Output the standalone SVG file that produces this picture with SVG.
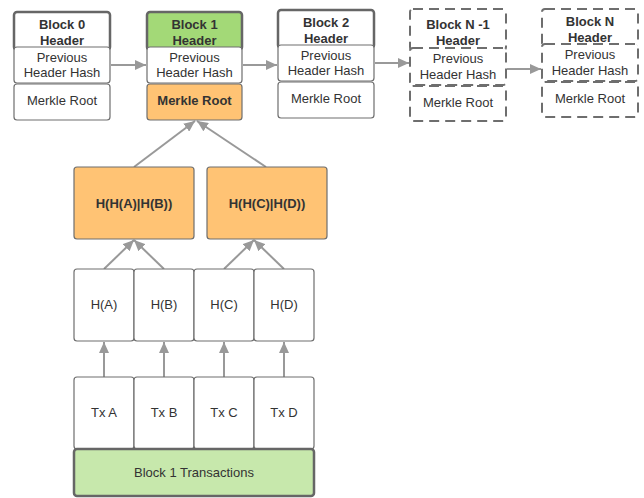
<svg xmlns="http://www.w3.org/2000/svg" width="644" height="498" viewBox="0 0 644 498">
<style>
  text { font-family: "Liberation Sans", Arial, sans-serif; font-size: 13px; fill: #333; text-anchor: middle; dominant-baseline: central; }
  .b { font-weight: bold; }
  .hdr { stroke: #666; stroke-width: 2.5; }
  .box { stroke: #6e6e6e; stroke-width: 1.2; fill: #fff; }
  .dash { stroke-dasharray: 10 6; stroke: #6e6e6e; stroke-width: 2; }
  .white { fill: #fff; }
  .green { fill: #a3d977; }
  .orange { fill: #ffc374; stroke: #6e6e6e; stroke-width: 1.2; }
  .lgreen { fill: #c7e8ac; }
  .conn line { stroke: #999; stroke-width: 2; marker-end: url(#ah); }
</style>
<defs>
  <marker id="ah" markerUnits="userSpaceOnUse" markerWidth="12" markerHeight="10" refX="11" refY="5" orient="auto">
    <path d="M0,0 L11,5 L0,10 Z" fill="#999"/>
  </marker>
</defs>
<rect width="644" height="498" fill="#fff"/>

<g id="connectors" class="conn">
  <line x1="111" y1="65" x2="146" y2="65"/>
  <line x1="243" y1="65" x2="277" y2="65"/>
  <line x1="375" y1="63" x2="409" y2="63"/>
  <line x1="507" y1="69" x2="541" y2="69"/>
  <line x1="134" y1="167" x2="195" y2="121"/>
  <line x1="266" y1="167" x2="197" y2="121"/>
  <line x1="104" y1="269" x2="134" y2="240"/>
  <line x1="164" y1="269" x2="134" y2="240"/>
  <line x1="224" y1="269" x2="254" y2="240"/>
  <line x1="284" y1="269" x2="254" y2="240"/>
  <line x1="104" y1="377" x2="104" y2="342"/>
  <line x1="164" y1="377" x2="164" y2="342"/>
  <line x1="224" y1="377" x2="224" y2="342"/>
  <line x1="284" y1="377" x2="284" y2="342"/>
</g>

<g id="block0">
  <rect class="hdr white" x="14" y="12" width="96" height="38" rx="3"/>
  <rect class="box" x="14" y="47" width="96" height="36" rx="3"/>
  <rect class="box" x="14" y="84" width="96" height="36" rx="3"/>
  <text class="b" x="62" y="24">Block 0</text>
  <text class="b" x="62" y="40">Header</text>
  <text x="62" y="57">Previous</text>
  <text x="62" y="72">Header Hash</text>
  <text x="62" y="100">Merkle Root</text>
</g>

<g id="block1">
  <rect class="hdr green" x="147" y="12" width="95" height="38" rx="3"/>
  <rect class="box" x="147" y="47" width="95" height="36" rx="3"/>
  <rect class="orange" x="147" y="84" width="95" height="36" rx="3"/>
  <text class="b" x="194.5" y="24">Block 1</text>
  <text class="b" x="194.5" y="40">Header</text>
  <text x="194.5" y="57">Previous</text>
  <text x="194.5" y="72">Header Hash</text>
  <text class="b" x="194.5" y="100">Merkle Root</text>
</g>

<g id="block2">
  <rect class="hdr white" x="278" y="10" width="96" height="38" rx="3"/>
  <rect class="box" x="278" y="45" width="96" height="36" rx="3"/>
  <rect class="box" x="278" y="82" width="96" height="36" rx="3"/>
  <text class="b" x="326" y="22">Block 2</text>
  <text class="b" x="326" y="38">Header</text>
  <text x="326" y="55">Previous</text>
  <text x="326" y="70">Header Hash</text>
  <text x="326" y="98">Merkle Root</text>
</g>

<g id="blockN1">
  <rect class="white dash" x="410" y="9" width="96" height="41" rx="3"/>
  <rect class="box dash" x="410" y="48" width="96" height="37" rx="3"/>
  <rect class="box dash" x="410" y="86" width="96" height="35" rx="3"/>
  <text class="b" x="458" y="24">Block N -1</text>
  <text class="b" x="458" y="40">Header</text>
  <text x="458" y="58">Previous</text>
  <text x="458" y="74">Header Hash</text>
  <text x="458" y="102">Merkle Root</text>
</g>

<g id="blockN">
  <rect class="white dash" x="542" y="9" width="96" height="37" rx="3"/>
  <rect class="box dash" x="542" y="44" width="96" height="37" rx="3"/>
  <rect class="box dash" x="542" y="82" width="96" height="35" rx="3"/>
  <text class="b" x="590" y="21">Block N</text>
  <text class="b" x="590" y="37">Header</text>
  <text x="590" y="54">Previous</text>
  <text x="590" y="70">Header Hash</text>
  <text x="590" y="98">Merkle Root</text>
</g>

<g id="hab">
  <rect class="orange" x="74" y="167" width="120" height="72" rx="3"/>
  <text class="b" x="134" y="203">H(H(A)|H(B))</text>
</g>
<g id="hcd">
  <rect class="orange" x="207" y="167" width="120" height="72" rx="3"/>
  <text class="b" x="267" y="203">H(H(C)|H(D))</text>
</g>

<g id="ha"><rect class="box" x="74" y="269" width="60" height="72" rx="3"/><text x="104" y="304">H(A)</text></g>
<g id="hb"><rect class="box" x="134" y="269" width="60" height="72" rx="3"/><text x="164" y="304">H(B)</text></g>
<g id="hc"><rect class="box" x="194" y="269" width="60" height="72" rx="3"/><text x="224" y="304">H(C)</text></g>
<g id="hd"><rect class="box" x="254" y="269" width="60" height="72" rx="3"/><text x="284" y="304">H(D)</text></g>

<g id="txa"><rect class="box" x="74" y="377" width="60" height="72" rx="3"/><text x="104" y="412">Tx A</text></g>
<g id="txb"><rect class="box" x="134" y="377" width="60" height="72" rx="3"/><text x="164" y="412">Tx B</text></g>
<g id="txc"><rect class="box" x="194" y="377" width="60" height="72" rx="3"/><text x="224" y="412">Tx C</text></g>
<g id="txd"><rect class="box" x="254" y="377" width="60" height="72" rx="3"/><text x="284" y="412">Tx D</text></g>

<g id="block1tx">
  <rect class="hdr lgreen" x="74" y="449" width="240" height="47" rx="3"/>
  <text x="194" y="472">Block 1 Transactions</text>
</g>
</svg>
